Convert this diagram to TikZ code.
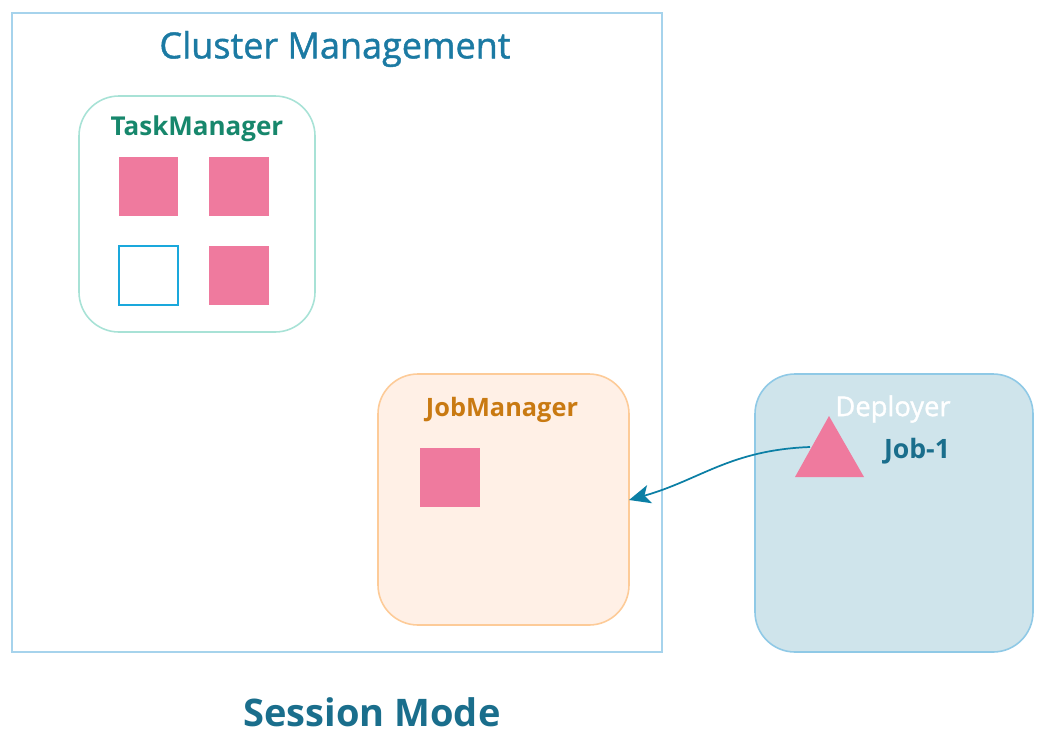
\documentclass[tikz,border=0pt]{standalone}
\usepackage{fontspec}
\setmainfont{Open Sans}
\usetikzlibrary{arrows.meta,shapes.geometric}
\definecolor{outerline}{HTML}{A6D3EC}
\definecolor{titleblue}{HTML}{1B7AA3}
\definecolor{tmline}{HTML}{A8E2D6}
\definecolor{tmtext}{HTML}{17876C}
\definecolor{slotpink}{HTML}{EF7A9E}
\definecolor{slotblue}{HTML}{1AA8DC}
\definecolor{jmfill}{HTML}{FFF0E6}
\definecolor{jmline}{HTML}{FDCB98}
\definecolor{jmtext}{HTML}{C97A12}
\definecolor{depfill}{HTML}{CFE4EB}
\definecolor{depline}{HTML}{8FC9E6}
\definecolor{jobtext}{HTML}{1A6E8C}
\definecolor{arrowc}{HTML}{0B7FA5}
\tikzset{
  slot/.style={fill=slotpink,draw=none},
  freeslot/.style={fill=white,draw=slotblue,line width=1.2pt},
  lbl/.style={inner sep=0pt,anchor=center},
}
\begin{document}
\begin{tikzpicture}[x=0.75pt,y=-0.75pt]
\useasboundingbox (0,0) rectangle (1060,740);
% outer cluster box
\draw[outerline,line width=0.9pt] (12,13) rectangle (662,652);
\node[lbl,text=titleblue,font=\fontsize{27}{30}\selectfont\addfontfeatures{FakeBold=1.2}] (ct) at (335,49) {Cluster Management};
% TaskManager
\draw[tmline,line width=1.2pt,rounded corners=30pt] (79,96) rectangle (315,332);
\node[lbl,text=tmtext,font=\fontsize{19.5}{22}\selectfont\bfseries] (tmt) at (197,129) {TaskManager};
\fill[slot] (119,157) rectangle (178,216);
\fill[slot] (209,157) rectangle (269,216);
\draw[freeslot] (119,246) rectangle (178,305);
\fill[slot] (209,246) rectangle (269,305);
% JobManager
\draw[jmline,fill=jmfill,line width=1.2pt,rounded corners=30pt] (378,374) rectangle (629,625);
\node[lbl,text=jmtext,font=\fontsize{19}{22}\selectfont\bfseries] (jmt) at (502,410) {JobManager};
\fill[slot] (420,448) rectangle (480,507);
\coordinate (jmin) at (629,500);
% Deployer
\draw[depline,fill=depfill,line width=1.2pt,rounded corners=30pt] (755,374) rectangle (1033,652);
\node[lbl,text=white,font=\fontsize{20.5}{24}\selectfont\addfontfeatures{FakeBold=1.2}] (dt) at (893,409) {Deployer};
\fill[slotpink] (829,416) -- (864,477) -- (795,477) -- cycle;
\coordinate (jobsrc) at (810,447);
\node[lbl,text=jobtext,font=\fontsize{20}{24}\selectfont\bfseries] (job) at (917,451) {Job-1};
\draw[arrowc,line width=1.3pt,-{Stealth[length=16pt,width=14pt,inset=4pt]}] (jobsrc) .. controls (730,450) and (700,480) .. (jmin);
% caption
\node[lbl,text=jobtext,font=\fontsize{28.5}{32}\selectfont\bfseries] (cap) at (372,712) {Session Mode};
\end{tikzpicture}
\end{document}
